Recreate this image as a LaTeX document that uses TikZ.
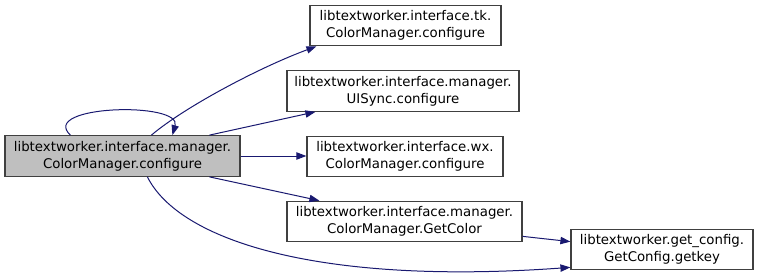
\documentclass[tikz,border=0pt]{standalone}
\usepackage{fontspec}
\setmainfont{DejaVu Sans}
\usetikzlibrary{arrows.meta, calc}
\definecolor{mNavy}{HTML}{191970}
\definecolor{mSilver}{HTML}{BFBFBF}
\definecolor{mBorder}{HTML}{404040}

\begin{document}
\begin{tikzpicture}[
  x=0.75pt, y=-0.75pt,
  every node/.style={font=\fontsize{10}{12.5}\selectfont},
  func/.style={draw=mBorder, line width=0.9pt, fill=white, align=center,
               inner sep=0pt, minimum height=30.4pt},
  call/.style={-{Triangle[length=7.5pt, width=5.5pt]}, mNavy, line width=0.75pt},
]
  \useasboundingbox (0,0) rectangle (759,278);

  % Caller
  \node[func, fill=mSilver, minimum width=176.25pt] (cfg) at (122.5,156)
    {libtextworker.interface.manager.\\ColorManager.configure};

  % Callees
  \node[func, minimum width=143.25pt] (tk) at (405.5,25.5)
    {libtextworker.interface.tk.\\ColorManager.configure};
  \node[func, minimum width=174pt] (uisync) at (403,91)
    {libtextworker.interface.manager.\\UISync.configure};
  \node[func, minimum width=147pt] (wx) at (405,156.5)
    {libtextworker.interface.wx.\\ColorManager.configure};
  \node[func, minimum width=176.25pt] (getcolor) at (404.5,221.5)
    {libtextworker.interface.manager.\\ColorManager.GetColor};
  \node[func, minimum width=136.5pt] (getkey) at (662,249.5)
    {libtextworker.get\_config.\\GetConfig.getkey};

  % Calls
  \draw[call] ($(cfg.north west)+(66,0)$) .. controls +(-32,-30) and +(10,-34)
    .. ($(cfg.north west)+(168,0)$);
  \draw[call] ($(cfg.north west)+(147,0)$) .. controls +(33,-28) and +(-57,21)
    .. ($(tk.south west)+(7,0)$);
  \draw[call] ($(cfg.north west)+(205,0)$) -- ($(uisync.south west)+(29,0)$);
  \draw[call] (cfg.east) -- (wx.west |- cfg.east);
  \draw[call] ($(cfg.south west)+(205,0)$) -- ($(getcolor.north west)+(33,0)$);
  \draw[call] ($(cfg.south west)+(143,0)$) .. controls +(32,64) and +(-251,18)
    .. ($(getkey.south west)+(0,-3)$);
  \draw[call] ($(getcolor.south east)+(0,-6)$) -- ($(getkey.north west)+(0,13)$);
\end{tikzpicture}
\end{document}
